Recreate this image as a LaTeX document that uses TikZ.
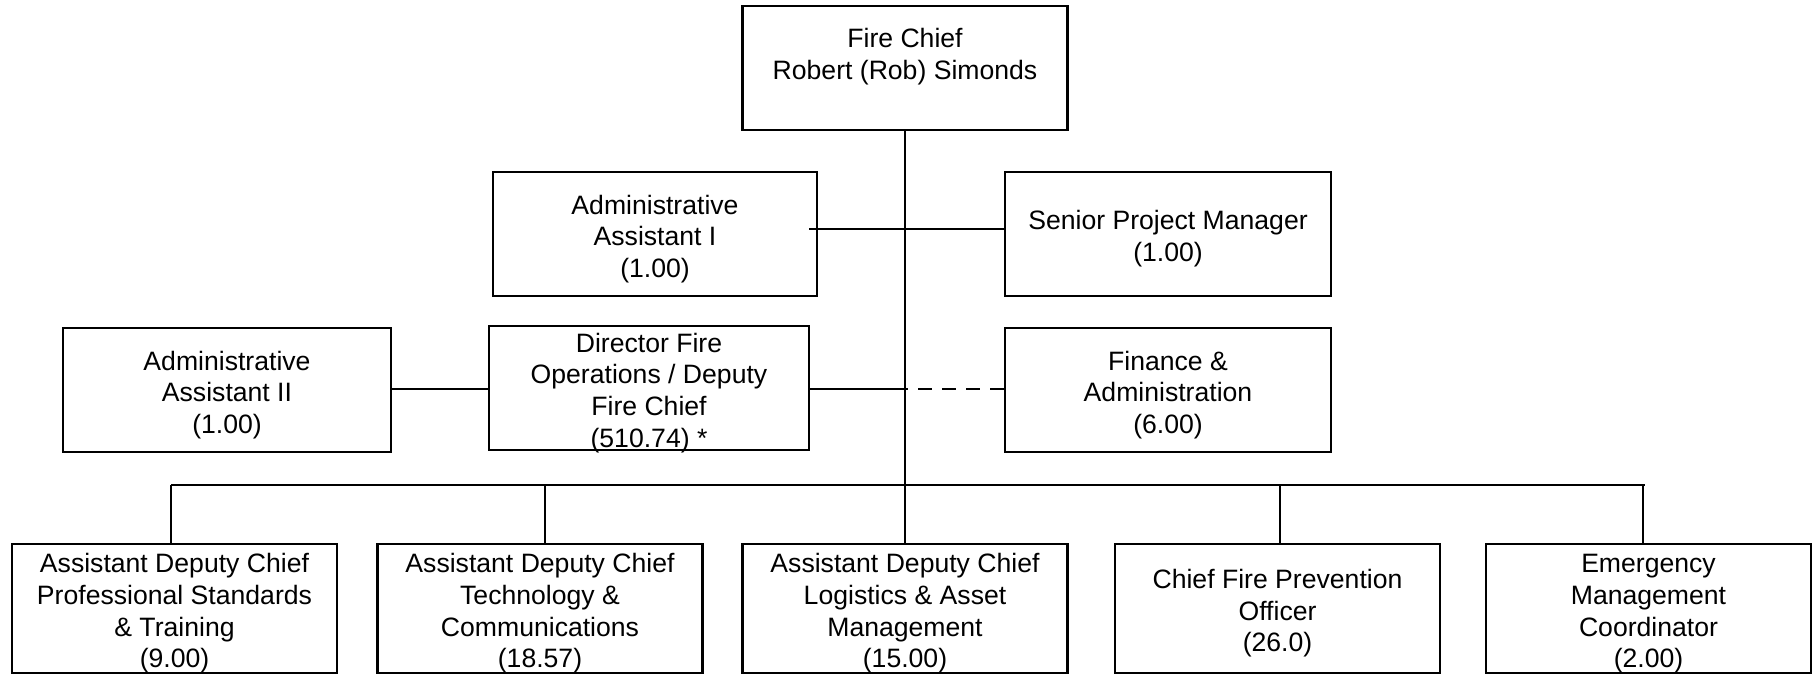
\documentclass[tikz,border=0pt]{standalone}
\usepackage{fontspec}
\setmainfont{Liberation Sans}
\newcommand{\tp}{\rule{0pt}{14.5pt}}
\begin{document}
\begin{tikzpicture}[x=0.5pt,y=-0.5pt,
  every path/.style={line width=1.35pt},
  box/.style={draw=black,line width=1.45pt,fill=white,inner xsep=0pt,inner ysep=-3pt,align=center,
    font=\fontsize{13.3}{15.8}\selectfont,minimum width=162.5pt,minimum height=62pt},
  lowbox/.style={box,minimum height=64.5pt},
  conn/.style={draw=black,line width=1.35pt},
  dashconn/.style={conn,dash pattern=on 7pt off 5pt}]
\useasboundingbox (0,0) rectangle (1814,676);
% boxes
\node[box] (chief) at (905,68) {\rule{0pt}{16pt}Fire Chief\\Robert (Rob) Simonds\\\strut};
\node[box,minimum width=162pt] (aa1) at (655,234) {\tp Administrative\\Assistant I\\(1.00)};
\node[box,minimum width=163pt] (spm) at (1168,234) {\tp Senior Project Manager\\(1.00)};
\node[box,minimum width=164pt] (aa2) at (227,390) {\tp Administrative\\Assistant II\\(1.00)};
\node[box,minimum width=160pt] (dir) at (649,388) {\tp Director Fire\\Operations / Deputy\\Fire Chief\\(510.74) *};
\node[box,minimum width=163pt] (fin) at (1168,390) {\tp Finance \&\\Administration\\(6.00)};
\node[lowbox] (b1) at (174.5,608.5) {\tp Assistant Deputy Chief\\Professional Standards\\\& Training\\(9.00)};
\node[lowbox] (b2) at (540,608.5) {\tp Assistant Deputy Chief\\Technology \&\\Communications\\(18.57)};
\node[lowbox] (b3) at (905,608.5) {\tp Assistant Deputy Chief\\Logistics \& Asset\\Management\\(15.00)};
\node[lowbox] (b4) at (1277.5,608.5) {\tp Chief Fire Prevention\\Officer\\(26.0)};
\node[lowbox] (b5) at (1648.5,608.5) {\tp Emergency\\Management\\Coordinator\\(2.00)};
% coordinates
\coordinate (barL) at (171,485);
\coordinate (barR) at (1645,485);
\coordinate (d2) at (545,485);
\coordinate (d4) at (1280,485);
\coordinate (d5) at (1643,485);
\coordinate (aaline) at (809,229);
\coordinate (dirline) at (905,389);
% connectors
\draw[conn] (chief.south) -- (b3.north);
\draw[conn] (aaline) -- (aaline -| spm.west);
\draw[conn] (aa2.east |- dirline) -- (dir.west |- dirline);
\draw[conn] (dir.east |- dirline) -- (dirline);
\draw[dashconn] (fin.west |- dirline) -- (dirline);
\draw[conn] (barL) -- (barR);
\draw[conn] (barL) -- (barL |- b1.north);
\draw[conn] (d2) -- (d2 |- b2.north);
\draw[conn] (d4) -- (d4 |- b4.north);
\draw[conn] (d5) -- (d5 |- b5.north);
\end{tikzpicture}
\end{document}
